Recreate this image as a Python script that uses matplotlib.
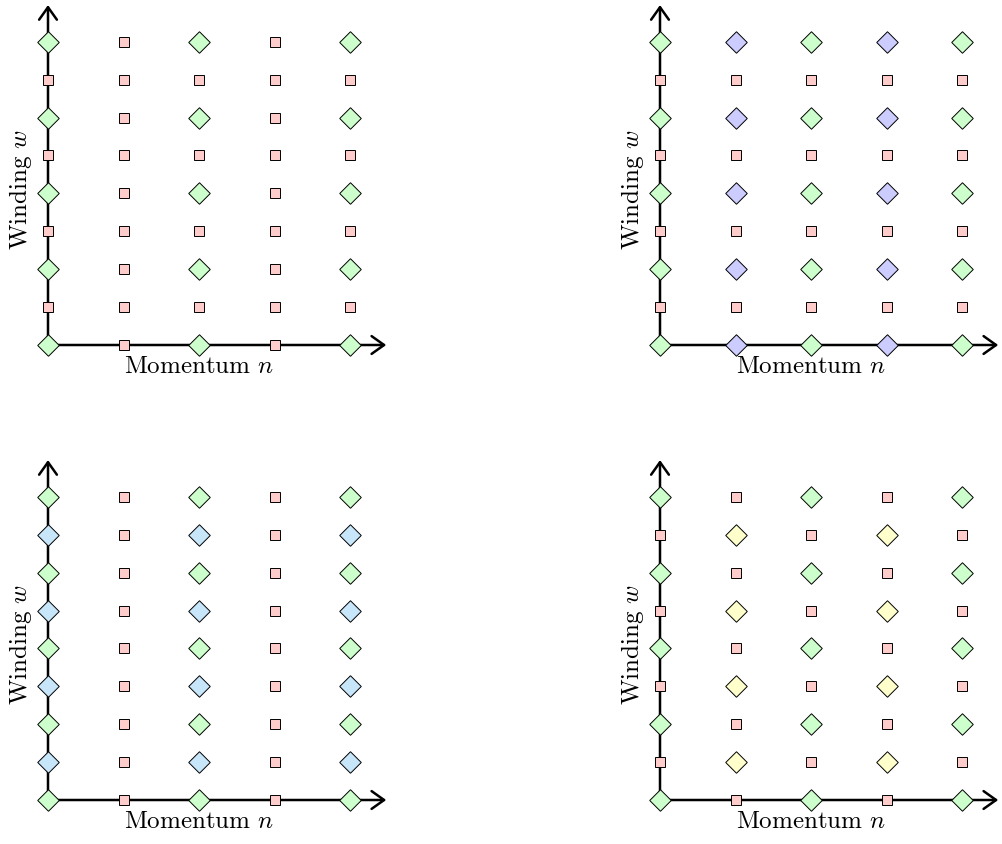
import matplotlib
matplotlib.use("Agg")
import matplotlib.pyplot as plt

plt.rcParams["mathtext.fontset"] = "cm"

momentum = [0, 1, 2, 3, 4]
winding = [8, 7, 6, 5, 4, 3, 2, 1, 0]

# one string per winding row (top to bottom), one letter per momentum value
# g = green diamond, v = violet diamond, b = blue diamond, y = yellow diamond, p = pink square
panel_top_left = ["gpgpg", "ppppp", "gpgpg", "ppppp", "gpgpg", "ppppp", "gpgpg", "ppppp", "gpgpg"]
panel_top_right = ["gvgvg", "ppppp", "gvgvg", "ppppp", "gvgvg", "ppppp", "gvgvg", "ppppp", "gvgvg"]
panel_bottom_left = ["gpgpg", "bpbpb", "gpgpg", "bpbpb", "gpgpg", "bpbpb", "gpgpg", "bpbpb", "gpgpg"]
panel_bottom_right = ["gpgpg", "pypyp", "gpgpg", "pypyp", "gpgpg", "pypyp", "gpgpg", "pypyp", "gpgpg"]

styles = {
    "g": dict(marker=(4, 0, 0), ms=15.5, mfc="#ccffcc"),
    "v": dict(marker=(4, 0, 0), ms=15.5, mfc="#ccccff"),
    "b": dict(marker=(4, 0, 0), ms=15.5, mfc="#c8e6fa"),
    "y": dict(marker=(4, 0, 0), ms=15.5, mfc="#ffffcc"),
    "p": dict(marker="s", ms=7.5, mfc="#ffcccc"),
}

W, H = 1002, 844
SX, SY = 75.5, 37.9
XLIM = (-0.6, 4.7)
YLIM = (-0.7, 9.1)

fig = plt.figure(figsize=(W / 100, H / 100), dpi=100)


def make_axes(ox, oy):
    left = ox + XLIM[0] * SX
    width = (XLIM[1] - XLIM[0]) * SX
    bottom = oy - YLIM[0] * SY
    height = (YLIM[1] - YLIM[0]) * SY
    ax = fig.add_axes([left / W, 1 - bottom / H, width / W, height / H])
    ax.set_xlim(*XLIM)
    ax.set_ylim(*YLIM)
    ax.axis("off")
    return ax


def draw_panel(ax, rows):
    arrow = dict(arrowstyle="->,head_length=0.45,head_width=0.32", lw=1.8,
                 color="black", shrinkA=0, shrinkB=0, mutation_scale=20)
    ax.annotate("", xy=(4.48, 0), xytext=(0, 0), arrowprops=arrow, zorder=1)
    ax.annotate("", xy=(0, 8.97), xytext=(0, 0), arrowprops=arrow, zorder=1)
    for w, row in zip(winding, rows):
        for n, code in zip(momentum, row):
            ax.plot(n, w, linestyle="none", mec="black", mew=0.7,
                    clip_on=False, zorder=3, **styles[code])
    ax.text(2, -0.58, "Momentum $n$", ha="center", va="center",
            fontsize=18, fontfamily="cmr10")
    ax.text(-0.36, 4.1, "Winding $w$", ha="center", va="center",
            rotation=90, fontsize=18, fontfamily="cmr10")


draw_panel(make_axes(48, 345), panel_top_left)
draw_panel(make_axes(660, 345), panel_top_right)
draw_panel(make_axes(48, 800), panel_bottom_left)
draw_panel(make_axes(660, 800), panel_bottom_right)

fig.savefig("out.png", dpi=100)
